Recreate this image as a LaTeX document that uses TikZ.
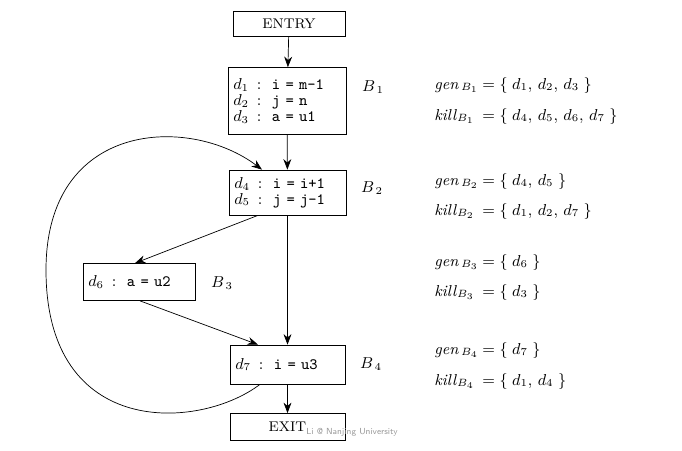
\documentclass[tikz,border=0pt]{standalone}
\usepackage{tikz}
\usetikzlibrary{arrows.meta, positioning}

\newcommand{\stm}[2]{$#1$\,\ :\ \ \texttt{#2}}

\begin{document}
\begin{tikzpicture}[
  x=0.02cm, y=-0.02cm,
  box/.style={draw, align=left, font=\small, inner xsep=3pt, inner ysep=2pt},
  blk/.style={font=\small},
  eq/.style={anchor=base west, font=\small, inner sep=0pt},
  >={Stealth[length=6pt, width=4.5pt]}
]
\useasboundingbox (0,0) rectangle (682,450);

% blocks
\node[box, minimum width=2.24cm, minimum height=0.5cm, align=center, font=\footnotesize] (entry) at (289,24) {ENTRY};
\node[box, text width=2.36cm-6pt, minimum height=1.34cm] (b1) at (287,101)
  {\stm{d_1}{i = m-1}\\[-2pt] \stm{d_2}{j = n}\\[-2pt] \stm{d_3}{a = u1}};
\node[box, text width=2.34cm-6pt, minimum height=0.9cm] (b2) at (287.5,192.5)
  {\stm{d_4}{i = i+1}\\[-2pt] \stm{d_5}{j = j-1}};
\node[box, text width=2.24cm-6pt, minimum height=0.74cm] (b3) at (139,282) {\stm{d_6}{a = u2}};
\node[box, text width=2.3cm-6pt, minimum height=0.78cm] (b4) at (287.5,364.5) {\stm{d_7}{i = u3}};
\node[box, minimum width=2.3cm, minimum height=0.54cm, align=center, font=\footnotesize] (exit) at (287.5,427) {EXIT};
\node[font=\fontsize{5}{6}\sffamily, text=black!40, anchor=west, inner sep=0pt] (mark) at (306,432) {Li @ Nanjing University};

\node[blk] (lb1) at (373,87)  {$B_{\,1}$};
\node[blk] (lb2) at (372,188) {$B_{\,2}$};
\node[blk] (lb3) at (222,283) {$B_{\,3}$};
\node[blk] (lb4) at (371,364) {$B_{\,4}$};

% edges
\draw[->] (entry) -- (b1);
\draw[->] (b1) -- (b2);
\draw[->] (b2.south -| 258,0) -- (b3.north -| 135,0);
\draw[->] (b3.south -| 140,0) -- (b4.north -| 258,0);
\draw[->] (b2) -- (b4);
\draw[->] (b4) -- (exit);
\coordinate (loopl) at (46,270);
\draw[->] (b4.south -| 260,0) .. controls (200,430) and (46,440) .. (loopl)
  .. controls (46,120) and (190,115) .. (b2.north -| 262,0);

% gen / kill sets
\node[eq] (genb1)  at (434,89)  {\makebox[0.96cm][l]{\textit{gen}$_{\,B_1}$}$=\{\;d_1,\,d_2,\,d_3\;\}$};
\node[eq] (killb1) at (434,120) {\makebox[0.96cm][l]{\textit{kill}$_{B_1}$}$=\{\;d_4,\,d_5,\,d_6,\,d_7\;\}$};
\node[eq] (genb2)  at (434,185) {\makebox[0.96cm][l]{\textit{gen}$_{\,B_2}$}$=\{\;d_4,\,d_5\;\}$};
\node[eq] (killb2) at (434,215) {\makebox[0.96cm][l]{\textit{kill}$_{B_2}$}$=\{\;d_1,\,d_2,\,d_7\;\}$};
\node[eq] (genb3)  at (434,266) {\makebox[0.96cm][l]{\textit{gen}$_{\,B_3}$}$=\{\;d_6\;\}$};
\node[eq] (killb3) at (434,296) {\makebox[0.96cm][l]{\textit{kill}$_{B_3}$}$=\{\;d_3\;\}$};
\node[eq] (genb4)  at (434,354) {\makebox[0.96cm][l]{\textit{gen}$_{\,B_4}$}$=\{\;d_7\;\}$};
\node[eq] (killb4) at (434,385) {\makebox[0.96cm][l]{\textit{kill}$_{B_4}$}$=\{\;d_1,\,d_4\;\}$};
\end{tikzpicture}
\end{document}
